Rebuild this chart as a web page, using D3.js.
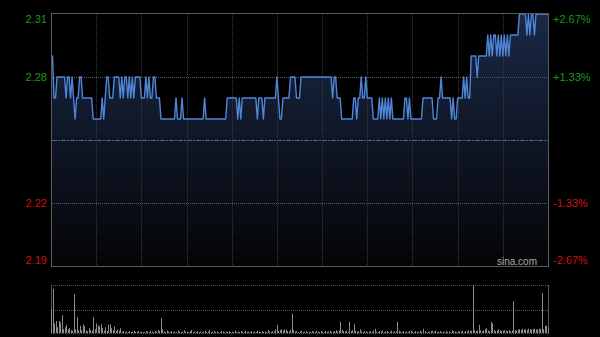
<!DOCTYPE html>
<html><head><meta charset="utf-8">
<script src="https://cdn.jsdelivr.net/npm/d3@7"></script>
<style>html,body{margin:0;padding:0;background:#000;}svg{display:block;}</style>
</head><body>
<svg id="c" width="600" height="337"></svg>
<script>
const prevClose = 2.25;
const priceTicks = [2.31, 2.28, 2.22, 2.19];
const pctTicks = ["+2.67%", "+1.33%", "-1.33%", "-2.67%"];
const gridMinutes = [30, 60, 90, 120, 150, 180, 210, 240, 270, 300];
const totalMinutes = 330;

const prices = [
2.29,2.29,2.27,2.27,2.28,2.28,2.28,2.28,2.28,2.28,
2.27,2.28,2.28,2.27,2.28,2.27,2.26,2.27,2.27,2.28,
2.28,2.27,2.27,2.27,2.27,2.27,2.27,2.27,2.26,2.26,
2.26,2.26,2.26,2.26,2.27,2.26,2.27,2.28,2.28,2.27,
2.27,2.27,2.28,2.28,2.28,2.28,2.27,2.28,2.27,2.28,
2.28,2.27,2.28,2.27,2.28,2.27,2.28,2.28,2.28,2.28,
2.27,2.27,2.27,2.28,2.27,2.28,2.27,2.27,2.28,2.28,
2.27,2.27,2.27,2.26,2.26,2.26,2.26,2.26,2.26,2.26,
2.26,2.26,2.26,2.27,2.26,2.26,2.26,2.27,2.26,2.26,
2.26,2.26,2.26,2.26,2.26,2.26,2.26,2.26,2.26,2.26,
2.26,2.26,2.27,2.26,2.26,2.26,2.26,2.26,2.26,2.26,
2.26,2.26,2.26,2.26,2.26,2.26,2.26,2.27,2.27,2.27,
2.27,2.27,2.27,2.27,2.26,2.27,2.26,2.27,2.27,2.27,
2.27,2.27,2.27,2.27,2.27,2.27,2.27,2.26,2.27,2.27,
2.27,2.26,2.27,2.27,2.27,2.27,2.27,2.27,2.27,2.27,
2.28,2.27,2.26,2.26,2.27,2.27,2.27,2.27,2.27,2.28,
2.28,2.28,2.28,2.27,2.27,2.27,2.28,2.28,2.28,2.28,
2.28,2.28,2.28,2.28,2.28,2.28,2.28,2.28,2.28,2.28,
2.28,2.28,2.28,2.28,2.28,2.28,2.28,2.27,2.28,2.28,
2.27,2.27,2.27,2.26,2.26,2.26,2.26,2.26,2.26,2.26,
2.26,2.27,2.27,2.26,2.27,2.27,2.28,2.27,2.27,2.28,
2.27,2.27,2.27,2.27,2.26,2.26,2.26,2.26,2.27,2.26,
2.27,2.26,2.27,2.26,2.27,2.26,2.27,2.26,2.26,2.26,
2.26,2.26,2.26,2.26,2.26,2.27,2.27,2.26,2.27,2.26,
2.26,2.26,2.26,2.26,2.26,2.26,2.26,2.27,2.27,2.27,
2.27,2.27,2.27,2.27,2.26,2.26,2.26,2.27,2.27,2.28,
2.27,2.27,2.27,2.27,2.27,2.27,2.26,2.27,2.26,2.26,
2.27,2.27,2.27,2.27,2.28,2.27,2.28,2.27,2.27,2.29,
2.29,2.29,2.29,2.28,2.29,2.29,2.29,2.29,2.29,2.29,
2.30,2.29,2.30,2.29,2.30,2.30,2.29,2.30,2.29,2.30,
2.29,2.30,2.29,2.30,2.29,2.30,2.30,2.30,2.30,2.30,
2.30,2.31,2.31,2.31,2.31,2.31,2.30,2.31,2.30,2.31,
2.31,2.30,2.31,2.31,2.31,2.31,2.31,2.31,2.31,2.31,
2.31
];

const volumes = [
50,92,20,25,12,25,22,37,8,12,
17,8,10,6,5,81,8,33,6,15,
6,18,14,5,4,10,6,5,33,8,
20,16,14,18,10,5,12,4,17,18,
10,6,14,4,8,5,10,3,4,2,
3,2,4,2,3,5,2,3,4,2,
3,2,2,4,3,2,5,3,2,4,
3,6,4,31,8,3,2,5,3,2,
4,2,3,2,5,3,2,3,6,2,
3,2,4,6,2,3,2,4,2,3,
2,3,5,2,3,7,2,3,4,2,
3,2,2,4,3,2,3,2,4,2,
3,2,5,2,3,2,4,3,2,5,
2,3,2,4,2,3,2,5,3,2,
4,2,3,2,6,3,2,4,3,8,
17,4,6,8,5,8,7,4,3,6,
40,6,3,4,2,3,5,2,3,4,
2,3,2,4,3,2,5,3,2,4,
3,2,4,2,3,5,2,3,4,6,
3,5,23,6,4,3,5,2,23,4,
6,19,5,3,4,8,3,2,4,3,
2,3,4,2,5,9,3,2,4,3,
6,2,3,4,2,3,5,2,4,3,
23,5,3,2,4,2,3,2,4,5,
3,2,4,3,2,5,3,9,4,2,
3,2,4,5,3,5,2,3,4,2,
3,2,4,2,3,2,5,4,3,2,
4,3,3,5,2,4,3,6,4,5,
100,6,4,5,17,6,4,5,8,10,
5,4,23,20,6,4,5,8,6,4,
5,6,5,4,6,4,5,66,6,5,
7,8,6,9,7,8,6,9,8,7,
8,9,7,8,9,8,83,8,15,15,
12
];

const svg = d3.select("#c");
const font = "'Liberation Sans', Arial, sans-serif";
const L = 51, R = 548, T = 13, B = 266;
const x = d3.scaleLinear().domain([0, totalMinutes]).range([L, R]);
const y = d3.scaleLinear().domain([2.19, 2.31]).range([266, 14]);

svg.append("rect").attr("width", 600).attr("height", 337).attr("fill", "#000");

const defs = svg.append("defs");
const grad = defs.append("linearGradient").attr("id", "g").attr("gradientUnits", "userSpaceOnUse")
  .attr("x1", 0).attr("y1", T).attr("x2", 0).attr("y2", B);
grad.append("stop").attr("offset", 0).attr("stop-color", "#1a2946");
grad.append("stop").attr("offset", 0.5).attr("stop-color", "#0f1626");
grad.append("stop").attr("offset", 1).attr("stop-color", "#040507");

// area
const area = d3.area().x((d, i) => x(i)).y0(B).y1(d => y(d));
svg.append("path").datum(prices).attr("d", area).attr("fill", "url(#g)");

// vertical grid
svg.append("g").selectAll("line").data(gridMinutes).join("line")
  .attr("x1", d => Math.round(x(d)) + 0.5).attr("x2", d => Math.round(x(d)) + 0.5)
  .attr("y1", T + 1).attr("y2", B)
  .attr("stroke", "#3a3a3a").attr("stroke-width", 1).attr("stroke-dasharray", "1,1");

// horizontal grid
svg.append("g").selectAll("line").data([2.28, 2.22]).join("line")
  .attr("x1", L + 1).attr("x2", R)
  .attr("y1", d => Math.round(y(d)) + 0.5).attr("y2", d => Math.round(y(d)) + 0.5)
  .attr("stroke", "#5a5a5a").attr("stroke-width", 1).attr("stroke-dasharray", "1,1");

// prev close line
svg.append("line").attr("x1", L + 1).attr("x2", R)
  .attr("y1", Math.round(y(prevClose)) + 0.5).attr("y2", Math.round(y(prevClose)) + 0.5)
  .attr("stroke", "#5d6675").attr("stroke-width", 1.2).attr("stroke-dasharray", "5,1,2,1");

// price line
const line = d3.line().x((d, i) => x(i)).y(d => y(d));
svg.append("path").datum(prices).attr("d", line).attr("fill", "none")
  .attr("stroke", "#4f86d8").attr("stroke-width", 1.4).attr("stroke-linejoin", "round");

// border
svg.append("rect").attr("x", L + 0.5).attr("y", T + 0.5).attr("width", R - L).attr("height", B - T)
  .attr("fill", "none").attr("stroke", "#5a5a5a").attr("stroke-width", 1);

// left labels
const labelY = [23, 81, 207, 264];
svg.append("g").selectAll("text").data(priceTicks).join("text")
  .attr("x", 47).attr("y", (d, i) => labelY[i]).attr("text-anchor", "end")
  .attr("font-family", font).attr("font-size", 11)
  .attr("fill", d => d > prevClose ? "#1a9a1a" : "#d01010")
  .text(d => d.toFixed(2));

// right labels
svg.append("g").selectAll("text").data(pctTicks).join("text")
  .attr("x", 553).attr("y", (d, i) => labelY[i]).attr("text-anchor", "start")
  .attr("font-family", font).attr("font-size", 11)
  .attr("fill", d => d[0] === "+" ? "#1a9a1a" : "#d01010")
  .text(d => d);

// watermark
svg.append("text").attr("x", 537).attr("y", 265).attr("text-anchor", "end")
  .attr("font-family", font).attr("font-size", 10).attr("fill", "#a8a8a8").text("sina.com");

// volume panel
const VT = 285, VB = 333;
const yv = d3.scaleLinear().domain([0, 100]).range([VB, VT]);
svg.append("g").selectAll("line").data([VT, (VT + VB) / 2 + 0.5, VB]).join("line")
  .attr("x1", L).attr("x2", R + 1).attr("y1", d => Math.round(d) + 0.5).attr("y2", d => Math.round(d) + 0.5)
  .attr("stroke", "#555").attr("stroke-width", 1).attr("stroke-dasharray", "1,1");
svg.append("g").selectAll("line").data([L, R]).join("line")
  .attr("x1", d => d + 0.5).attr("x2", d => d + 0.5).attr("y1", VT).attr("y2", VB + 1)
  .attr("stroke", "#555").attr("stroke-width", 1);
svg.append("g").selectAll("line").data(volumes).join("line")
  .attr("x1", (d, i) => Math.round(x(i)) + 0.5).attr("x2", (d, i) => Math.round(x(i)) + 0.5)
  .attr("y1", VB).attr("y2", d => yv(d))
  .attr("stroke", "#8c8c8c").attr("stroke-width", 1);
</script>
</body></html>
